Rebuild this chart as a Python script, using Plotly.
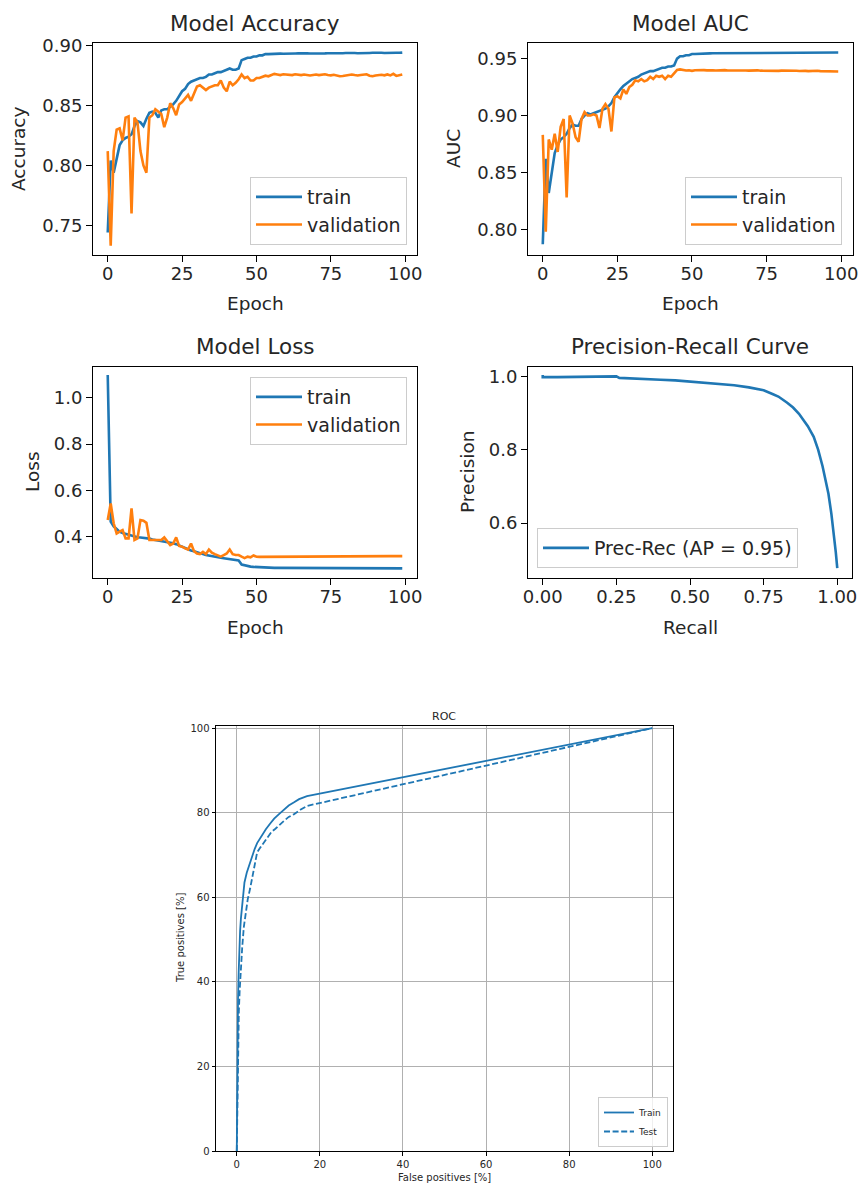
import plotly.graph_objects as go

# ---------------- data ----------------
epochs = list(range(100))

acc_train = [
    0.744, 0.804, 0.794, 0.807, 0.817, 0.821, 0.823, 0.824, 0.826, 0.833,
    0.837, 0.836, 0.833, 0.839, 0.844, 0.845, 0.844, 0.840, 0.846, 0.847,
    0.847, 0.849, 0.851, 0.854, 0.858, 0.862, 0.864, 0.868, 0.870, 0.871,
    0.872, 0.873, 0.873, 0.874, 0.876, 0.876, 0.877, 0.878, 0.878, 0.879,
    0.880, 0.881, 0.880, 0.880, 0.881, 0.888, 0.889, 0.890, 0.890, 0.891,
    0.891, 0.892, 0.892, 0.893,
    0.8930, 0.8932, 0.8933, 0.8931, 0.8934, 0.8933, 0.8935, 0.8934, 0.8933, 0.8935,
    0.8936, 0.8934, 0.8935, 0.8936, 0.8935, 0.8934, 0.8936, 0.8937, 0.8935, 0.8936,
    0.8937, 0.8936, 0.8938, 0.8937, 0.8936, 0.8938, 0.8939, 0.8937, 0.8938, 0.8939,
    0.8938, 0.8940, 0.8939, 0.8938, 0.8940, 0.8941, 0.8939, 0.8940, 0.8941, 0.8940,
    0.8942, 0.8941, 0.8940, 0.8942, 0.8941, 0.8943,
]
acc_val = [
    0.812, 0.733, 0.812, 0.830, 0.831, 0.821, 0.840, 0.841, 0.760, 0.840,
    0.836, 0.812, 0.800, 0.794, 0.840, 0.842, 0.847, 0.845, 0.843, 0.832,
    0.840, 0.852, 0.848, 0.842, 0.851, 0.853, 0.856, 0.859, 0.854, 0.860,
    0.866, 0.867, 0.865, 0.863, 0.865, 0.866, 0.867, 0.867, 0.871, 0.865,
    0.862, 0.870, 0.867, 0.869, 0.872, 0.876, 0.873, 0.874, 0.871, 0.871,
    0.873, 0.873, 0.874, 0.875,
    0.8745, 0.8755, 0.8765, 0.8760, 0.8755, 0.8762, 0.8758, 0.8760, 0.8755, 0.8762,
    0.8758, 0.8755, 0.8760, 0.8757, 0.8752, 0.8756, 0.8760, 0.8755, 0.8758, 0.8762,
    0.8756, 0.8753, 0.8758, 0.8750, 0.8745, 0.8748, 0.8752, 0.8757, 0.8760, 0.8755,
    0.8752, 0.8756, 0.8758, 0.8762, 0.8750, 0.8745, 0.8752, 0.8755, 0.8758, 0.8753,
    0.8760, 0.8752, 0.8765, 0.8748, 0.8752, 0.8760,
]

auc_train = [
    0.787, 0.862, 0.832, 0.849, 0.867, 0.874, 0.879, 0.881, 0.884, 0.889,
    0.892, 0.891, 0.891, 0.897, 0.900, 0.902, 0.901, 0.902, 0.903, 0.904,
    0.905, 0.906, 0.908, 0.911, 0.916, 0.920, 0.923, 0.926, 0.928, 0.930,
    0.932, 0.933, 0.934, 0.936, 0.937, 0.938, 0.939, 0.939, 0.940, 0.941,
    0.942, 0.942, 0.943, 0.943, 0.944, 0.950, 0.952, 0.952, 0.953, 0.953,
    0.954, 0.954, 0.954, 0.9545,
    0.9545, 0.9546, 0.9546, 0.9547, 0.9547, 0.9547, 0.9548, 0.9548, 0.9548, 0.9548,
    0.9549, 0.9549, 0.9549, 0.9549, 0.9549, 0.9550, 0.9550, 0.9550, 0.9550, 0.9550,
    0.9550, 0.9550, 0.9551, 0.9551, 0.9551, 0.9551, 0.9551, 0.9551, 0.9551, 0.9551,
    0.9552, 0.9552, 0.9552, 0.9552, 0.9552, 0.9552, 0.9552, 0.9552, 0.9552, 0.9552,
    0.9553, 0.9553, 0.9553, 0.9553, 0.9553, 0.9553,
]
auc_val = [
    0.883, 0.798, 0.879, 0.870, 0.884, 0.868, 0.890, 0.897, 0.828, 0.900,
    0.893, 0.881, 0.877, 0.897, 0.903, 0.900, 0.900, 0.901, 0.900, 0.889,
    0.906, 0.910, 0.906, 0.886, 0.916, 0.917, 0.915, 0.923, 0.919, 0.925,
    0.927, 0.931, 0.930, 0.932, 0.930, 0.931, 0.934, 0.932, 0.935, 0.934,
    0.935, 0.932, 0.935, 0.934, 0.937, 0.940, 0.9405, 0.940, 0.9395, 0.9398,
    0.9392, 0.9398, 0.9400, 0.9398,
    0.9399, 0.9397, 0.9399, 0.9398, 0.9396, 0.9398, 0.9397, 0.9399, 0.9396, 0.9397,
    0.9398, 0.9396, 0.9395, 0.9397, 0.9396, 0.9394, 0.9396, 0.9395, 0.9397, 0.9394,
    0.9393, 0.9395, 0.9394, 0.9396, 0.9393, 0.9392, 0.9394, 0.9395, 0.9393, 0.9392,
    0.9394, 0.9393, 0.9391, 0.9393, 0.9392, 0.9390, 0.9392, 0.9391, 0.9393, 0.9390,
    0.9389, 0.9391, 0.9390, 0.9388, 0.9390, 0.9387,
]

loss_train = [
    1.098, 0.465, 0.445, 0.432, 0.422, 0.416, 0.412, 0.408, 0.403, 0.400,
    0.398, 0.397, 0.396, 0.394, 0.392, 0.388, 0.386, 0.384, 0.382, 0.379,
    0.377, 0.375, 0.372, 0.368, 0.362, 0.358, 0.352, 0.347, 0.341, 0.337,
    0.332, 0.328, 0.325, 0.321, 0.318, 0.315, 0.313, 0.311, 0.309, 0.307,
    0.305, 0.303, 0.301, 0.300, 0.298, 0.280, 0.276, 0.273, 0.271, 0.270,
    0.269, 0.268, 0.267, 0.2665,
    0.2660, 0.2658, 0.2657, 0.2656, 0.2655, 0.2654, 0.2653, 0.2653, 0.2652, 0.2651,
    0.2651, 0.2650, 0.2649, 0.2649, 0.2648, 0.2648, 0.2647, 0.2647, 0.2646, 0.2646,
    0.2645, 0.2645, 0.2644, 0.2644, 0.2643, 0.2643, 0.2642, 0.2642, 0.2641, 0.2641,
    0.2640, 0.2640, 0.2640, 0.2639, 0.2639, 0.2638, 0.2638, 0.2638, 0.2637, 0.2637,
    0.2637, 0.2636, 0.2636, 0.2636, 0.2635, 0.2635,
]
loss_val = [
    0.472, 0.544, 0.458, 0.414, 0.422, 0.429, 0.393, 0.393, 0.522, 0.386,
    0.393, 0.472, 0.469, 0.460, 0.386, 0.386, 0.386, 0.383, 0.386, 0.397,
    0.378, 0.364, 0.371, 0.397, 0.360, 0.357, 0.350, 0.345, 0.371, 0.338,
    0.328, 0.325, 0.335, 0.325, 0.345, 0.331, 0.325, 0.320, 0.314, 0.321,
    0.328, 0.345, 0.325, 0.321, 0.321, 0.314, 0.308, 0.314, 0.311, 0.319,
    0.314, 0.313, 0.313, 0.313,
    0.3130, 0.3131, 0.3132, 0.3132, 0.3133, 0.3134, 0.3134, 0.3135, 0.3135, 0.3136,
    0.3137, 0.3137, 0.3138, 0.3139, 0.3139, 0.3140, 0.3141, 0.3141, 0.3142, 0.3143,
    0.3143, 0.3144, 0.3145, 0.3146, 0.3146, 0.3147, 0.3148, 0.3149, 0.3150, 0.3150,
    0.3151, 0.3152, 0.3153, 0.3154, 0.3155, 0.3156, 0.3157, 0.3158, 0.3159, 0.3160,
    0.3161, 0.3162, 0.3163, 0.3164, 0.3165, 0.3166,
]

pr_recall = [
    0.0, 0.0, 0.05, 0.10, 0.15, 0.20, 0.25, 0.26, 0.30, 0.35, 0.40, 0.45,
    0.50, 0.55, 0.60, 0.65, 0.70, 0.72, 0.75, 0.78, 0.80, 0.83, 0.85, 0.87,
    0.89, 0.90, 0.92, 0.935, 0.95, 0.96, 0.97, 0.98, 0.99, 0.995, 1.0,
]
pr_precision = [
    1.004, 0.998, 0.998, 0.999, 0.999, 1.000, 1.000, 0.996, 0.995, 0.993, 0.991, 0.989,
    0.986, 0.983, 0.980, 0.976, 0.970, 0.966, 0.962, 0.952, 0.945, 0.928, 0.915, 0.898,
    0.877, 0.864, 0.835, 0.800, 0.755, 0.720, 0.680, 0.625, 0.560, 0.520, 0.477,
]
pr_label = "Prec-Rec (AP = 0.95)"

roc_train_fp = [0, 0.05, 0.1, 0.2, 0.3, 0.45, 0.6, 0.8, 1.0, 1.3, 1.85, 2.4, 2.9,
                3.6, 4.3, 4.9, 6.0, 7.0, 8.1, 9.0, 10.1, 11.5, 12.5, 13.7, 15.0, 16.9, 100]
roc_train_tp = [0, 10, 20, 30, 36, 42, 48, 52, 55, 58, 63.5, 65.8, 67.4,
                69.5, 71.4, 72.8, 74.6, 76.1, 77.5, 78.6, 79.6, 80.9, 81.7, 82.4, 83.2, 83.9, 100]
roc_test_fp = [0, 0.05, 0.15, 0.25, 0.5, 0.7, 1.0, 1.3, 1.7, 2.2, 2.65, 3.2, 3.7,
               4.3, 4.9, 5.7, 6.5, 7.5, 8.4, 9.3, 10.3, 11.3, 12.5, 13.7, 15.3, 16.9, 100]
roc_test_tp = [0, 5, 15, 26, 33, 38, 44, 48, 53, 57, 59.6, 62, 64.3,
               67.5, 70.6, 71.8, 72.9, 74.5, 75.5, 76.2, 77.0, 78.0, 79.0, 79.6, 80.7, 81.6, 100]

# ---------------- styling ----------------
W, H = 859, 1185
BLUE = "#1f77b4"
ORANGE = "#ff7f0e"
INK = "#262626"
FONT = "DejaVu Sans"


def fx(px):
    return px / W


def fy(py):
    return 1 - py / H


def axis(dom, rng, dtick, fmt, size, ticklen, grid=False, anchor=None, vertical=False,
         standoff=0):
    a = dict(
        domain=[fy(dom[1]), fy(dom[0])] if vertical else [fx(dom[0]), fx(dom[1])],
        range=rng, tick0=0, dtick=dtick, tickformat=fmt,
        showline=True, mirror=True, linecolor="black", linewidth=1,
        ticks="outside", ticklen=ticklen, tickwidth=1, tickcolor="black",
        tickfont=dict(family=FONT, size=size, color=INK),
        ticklabelstandoff=standoff, automargin=False,
        showgrid=grid, gridcolor="#b0b0b0", gridwidth=0.8,
        zeroline=False, fixedrange=True,
    )
    if anchor:
        a["anchor"] = anchor
    return a


fig = go.Figure()

line_w = 2.6


def curve(x, y, name, color, xa, ya, leg, group, width=line_w, dash=None):
    fig.add_trace(go.Scatter(
        x=x, y=y, name=name, mode="lines", legendgroup=group,
        line=dict(color=color, width=width, dash=dash),
        xaxis=xa, yaxis=ya, legend=leg))


# Model Accuracy
curve(epochs, acc_train, "train", BLUE, "x", "y", "legend", "a_tr")
curve(epochs, acc_val, "validation", ORANGE, "x", "y", "legend", "a_va")
# Model AUC
curve(epochs, auc_train, "train", BLUE, "x2", "y2", "legend2", "u_tr")
curve(epochs, auc_val, "validation", ORANGE, "x2", "y2", "legend2", "u_va")
# Model Loss
curve(epochs, loss_train, "train", BLUE, "x3", "y3", "legend3", "l_tr")
curve(epochs, loss_val, "validation", ORANGE, "x3", "y3", "legend3", "l_va")
# Precision-Recall
curve(pr_recall, pr_precision, pr_label, BLUE, "x4", "y4", "legend4", "pr")
# ROC
curve(roc_train_fp, roc_train_tp, "Train", BLUE, "x5", "y5", "legend5", "r_tr", width=1.8)
curve(roc_test_fp, roc_test_tp, "Test", BLUE, "x5", "y5", "legend5", "r_te", width=1.8,
      dash="6px,2.6px")

# panel boxes in pixels: (left, right), (top, bottom)
P1 = ((93, 417), (43, 255))
P2 = ((528, 853), (43, 255))
P3 = ((93, 417), (367, 578))
P4 = ((528, 852), (367, 578))
P5 = ((216, 673), (726, 1151))

ep_range = [-4.95, 103.95]
TS = 18  # tick font size in the training panels
XS = -4  # pull the bottom tick labels a little closer to the axis

legend_style = dict(bgcolor="rgba(255,255,255,0.8)", bordercolor="#cccccc", borderwidth=1,
                    font=dict(family=FONT, size=19, color=INK), itemwidth=46,
                    tracegroupgap=0)

fig.update_layout(
    template="none",
    width=W, height=H,
    margin=dict(l=0, r=0, t=0, b=0, pad=0, autoexpand=False),
    paper_bgcolor="white", plot_bgcolor="white",
    font=dict(family=FONT, color=INK),
    xaxis=axis(P1[0], ep_range, 25, "d", TS, 6, anchor="y", standoff=XS),
    yaxis=axis(P1[1], [0.7252, 0.9023], 0.05, ".2f", TS, 6, anchor="x", vertical=True),
    xaxis2=axis(P2[0], ep_range, 25, "d", TS, 6, anchor="y2", standoff=XS),
    yaxis2=axis(P2[1], [0.7775, 0.9637], 0.05, ".2f", TS, 6, anchor="x2", vertical=True),
    xaxis3=axis(P3[0], ep_range, 25, "d", TS, 6, anchor="y3", standoff=XS),
    yaxis3=axis(P3[1], [0.222, 1.1325], 0.2, ".1f", TS, 6, anchor="x3", vertical=True),
    xaxis4=axis(P4[0], [-0.05, 1.05], 0.25, ".2f", TS, 6, anchor="y4", standoff=XS),
    yaxis4=axis(P4[1], [0.45, 1.0256], 0.2, ".1f", TS, 6, anchor="x4", vertical=True),
    xaxis5=axis(P5[0], [-5, 105], 20, "d", 10, 3.5, grid=True, anchor="y5"),
    yaxis5=axis(P5[1], [0, 100.5], 20, "d", 10, 3.5, grid=True, anchor="x5", vertical=True),
    legend=dict(legend_style, x=fx(407), y=fy(245), xanchor="right", yanchor="bottom"),
    legend2=dict(legend_style, x=fx(842), y=fy(245), xanchor="right", yanchor="bottom"),
    legend3=dict(legend_style, x=fx(407), y=fy(377), xanchor="right", yanchor="top"),
    legend4=dict(legend_style, x=fx(537), y=fy(568), xanchor="left", yanchor="bottom"),
    legend5=dict(legend_style, x=fx(668), y=fy(1147), xanchor="right", yanchor="bottom",
                 font=dict(family=FONT, size=9, color=INK), itemwidth=30),
    showlegend=True,
)


def label(text, x, y, size, angle=0):
    fig.add_annotation(text=text, x=fx(x), y=fy(y), xref="paper", yref="paper",
                       showarrow=False, textangle=angle, xanchor="center", yanchor="middle",
                       font=dict(family=FONT, size=size, color=INK))


# panel titles
label("Model Accuracy", 255, 23, 21.5)
label("Model AUC", 690, 23, 21.5)
label("Model Loss", 255, 347, 21.5)
label("Precision-Recall Curve", 690, 347, 21.5)
label("ROC", 444.5, 716, 11)

# axis titles
label("Epoch", 255, 303, 18.5)
label("Epoch", 690, 303, 18.5)
label("Epoch", 255, 627, 18.5)
label("Recall", 690, 627, 18.5)
label("False positives [%]", 444.5, 1177, 10)
label("Accuracy", 18, 149, 18.5, -90)
label("AUC", 453, 149, 18.5, -90)
label("Loss", 32, 472, 18.5, -90)
label("Precision", 467, 472, 18.5, -90)
label("True positives [%]", 180, 938, 10, -90)

fig.write_html("out.html")
